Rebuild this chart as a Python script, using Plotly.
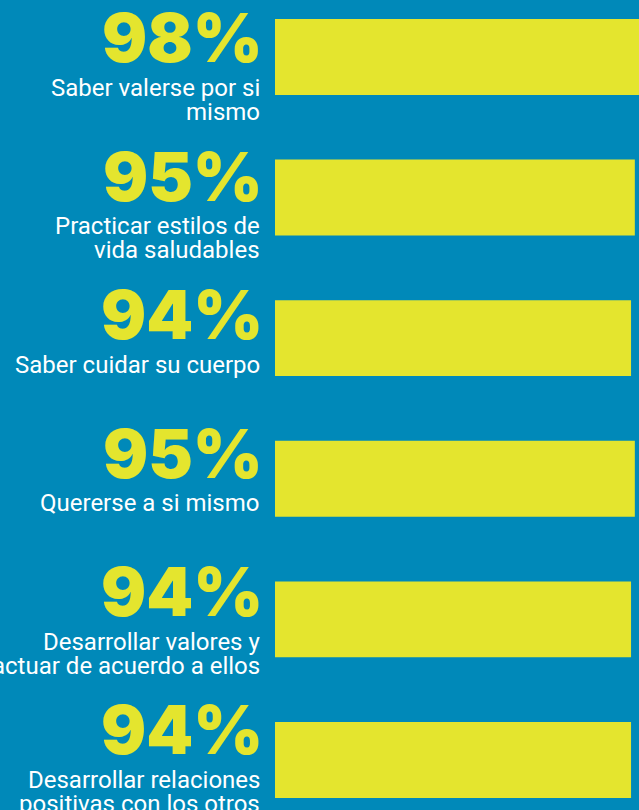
import plotly.graph_objects as go

categories = [
    "Saber valerse por si<br>mismo",
    "Practicar estilos de<br>vida saludables",
    "Saber cuidar su cuerpo",
    "Quererse a si mismo",
    "Desarrollar valores y<br>actuar de acuerdo a ellos",
    "Desarrollar relaciones<br>positivas con los otros",
]
values = [98, 95, 94, 95, 94, 94]

BG = "#0089b9"
YEL = "#e4e52e"

W, H = 639, 810
fig = go.Figure()
fig.add_trace(go.Bar(
    x=values, y=categories, orientation="h",
    marker=dict(color=YEL, line=dict(width=0)),
    hoverinfo="skip",
))

annotations = []
for i, (cat, v) in enumerate(zip(categories, values)):
    drift = 2.2 * i  # label blocks sit slightly higher down the list
    annotations.append(dict(
        x=0, y=cat, xref="x", yref="y", xanchor="right", yanchor="middle",
        xshift=-10, yshift=19 + drift, text=f"{v}%", showarrow=False,
        font=dict(family="Inter", size=67, color=YEL, weight=900),
    ))
    for j, line in enumerate(cat.split("<br>")):
        annotations.append(dict(
            x=0, y=cat, xref="x", yref="y", xanchor="right", yanchor="middle",
            xshift=-13, yshift=-31 + drift - 24 * j, text=line, showarrow=False,
            font=dict(family="Roboto", size=24, color="white"),
        ))

fig.update_layout(
    width=W, height=H,
    margin=dict(l=0, r=0, t=0, b=0),
    paper_bgcolor=BG, plot_bgcolor=BG,
    showlegend=False, bargap=0.46,
    xaxis=dict(domain=[275 / W, 1], range=[0, 96.1], visible=False, fixedrange=True),
    yaxis=dict(range=[5.356, -0.405], visible=False, fixedrange=True),
    annotations=annotations,
)
fig.write_html(
    "out.html",
    config={"displayModeBar": False},
    post_script="document.body.style.margin='0';document.body.style.overflow='hidden';",
)
